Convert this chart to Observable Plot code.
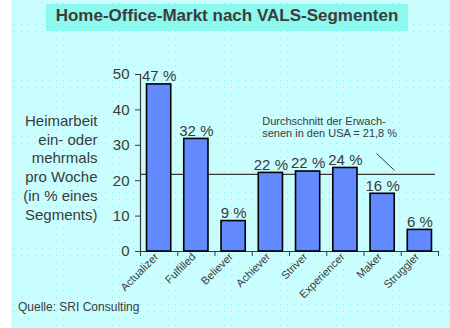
<!DOCTYPE html>
<html>
<head>
<meta charset="utf-8">
<script src="https://cdn.jsdelivr.net/npm/d3@7"></script>
<script src="https://cdn.jsdelivr.net/npm/@observablehq/plot@0.6"></script>
<style>
  html, body { margin: 0; padding: 0; background: #fff; }
  #wrap { position: relative; width: 450px; height: 328px; overflow: hidden; background: #fff;
          font-family: "Liberation Sans", Arial, sans-serif; color: #3a3a3a; }
  #bg { position: absolute; left: 11px; top: 0; width: 439px; height: 328px;
        background-color: #cafefe;
        background-image: radial-gradient(circle, #86eeee 0.5px, transparent 0.8px);
        background-size: 7px 7px; }
  #title { position: absolute; left: 46px; top: 4px; width: 362px; height: 27px; line-height: 24px;
           background: #8cf8ee; text-align: center; font-weight: bold; font-size: 17px; color: #3c3c3c; }
  #caption { position: absolute; left: 18px; top: 301px; font-size: 12px; line-height: 12px; color: #3a3a3a; }
  #chart { position: absolute; left: 0; top: 40px; }
</style>
</head>
<body>
<div id="wrap">
  <div id="bg"></div>
  <div id="title"></div>
  <div id="chart"></div>
  <div id="caption"></div>
</div>
<script>
const titleText = "Home-Office-Markt nach VALS-Segmenten";
const captionText = "Quelle: SRI Consulting";
const segments = ["Actualizer", "Fulfilled", "Believer", "Achiever", "Striver", "Experiencer", "Maker", "Struggler"];
const values = [47.2, 31.8, 8.6, 22.2, 22.6, 23.6, 16.3, 6.1];
const valueLabels = ["47 %", "32 %", "9 %", "22 %", "22 %", "24 %", "16 %", "6 %"];
const yTicks = [0, 10, 20, 30, 40, 50];
const average = 21.8;
const averageLabel = ["Durchschnitt der Erwach-", "senen in den USA = 21,8 %"];
const yLabelLines = ["Heimarbeit", "ein- oder", "mehrmals", "pro Woche", "(in % eines", "Segments)"];

document.getElementById("title").textContent = titleText;
document.getElementById("caption").textContent = captionText;

const rows = segments.map((s, i) => ({i, segment: s, value: values[i], label: valueLabels[i]}));
const ink = "#3a3a3a";

const chart = Plot.plot({
  width: 450,
  height: 288,
  marginTop: 34,
  marginBottom: 77,
  marginLeft: 140,
  marginRight: 12,
  style: {background: "transparent", fontFamily: "'Liberation Sans', Arial, sans-serif", color: ink, overflow: "visible"},
  x: {type: "linear", domain: [0, segments.length]},
  y: {domain: [0, 50]},
  marks: [
    Plot.axisY({ticks: yTicks, tickSize: 5, tickPadding: 6, fontSize: 15, label: null, stroke: ink}),
    Plot.axisX({ticks: d3.range(0, segments.length + 1), tickSize: 5, tickFormat: () => "", label: null, stroke: ink}),
    Plot.ruleX([0], {y1: 0, y2: 50, stroke: ink, strokeWidth: 1.2}),
    Plot.ruleY([0], {x1: 0, x2: segments.length, stroke: ink, strokeWidth: 1.2}),
    Plot.ruleY([average], {x1: 0, x2: segments.length - 0.08, stroke: ink, strokeWidth: 1.2}),
    Plot.rectY(rows, {x1: d => d.i + 0.175, x2: d => d.i + 0.825, y1: 0, y2: "value", fill: "#6389ff", stroke: "#000", strokeWidth: 1.6}),
    Plot.text(rows, {x: d => d.i + 0.5, y: "value", text: "label", lineAnchor: "bottom", dy: -3, fontSize: 15, fill: ink}),
    Plot.text(rows, {x: d => d.i + 0.5, frameAnchor: "bottom", text: "segment", rotate: -45, textAnchor: "end", dy: 6, fontSize: 11, fill: ink}),
    Plot.text([averageLabel.join("\n")], {x: 3.267, y: 38.1, text: d => d, textAnchor: "start", lineAnchor: "top", lineHeight: 1.06, fontSize: 11, fill: ink}),
    Plot.link([0], {x1: 6.336, y1: 27.7, x2: 6.82, y2: 22.9, stroke: ink, strokeWidth: 1}),
    Plot.text([yLabelLines.join("\n")], {frameAnchor: "top-left", dx: -43, dy: 38, text: d => d, textAnchor: "end", lineAnchor: "top", lineHeight: 1.253, fontSize: 15, fill: ink})
  ]
});
document.getElementById("chart").appendChild(chart);
</script>
</body>
</html>
